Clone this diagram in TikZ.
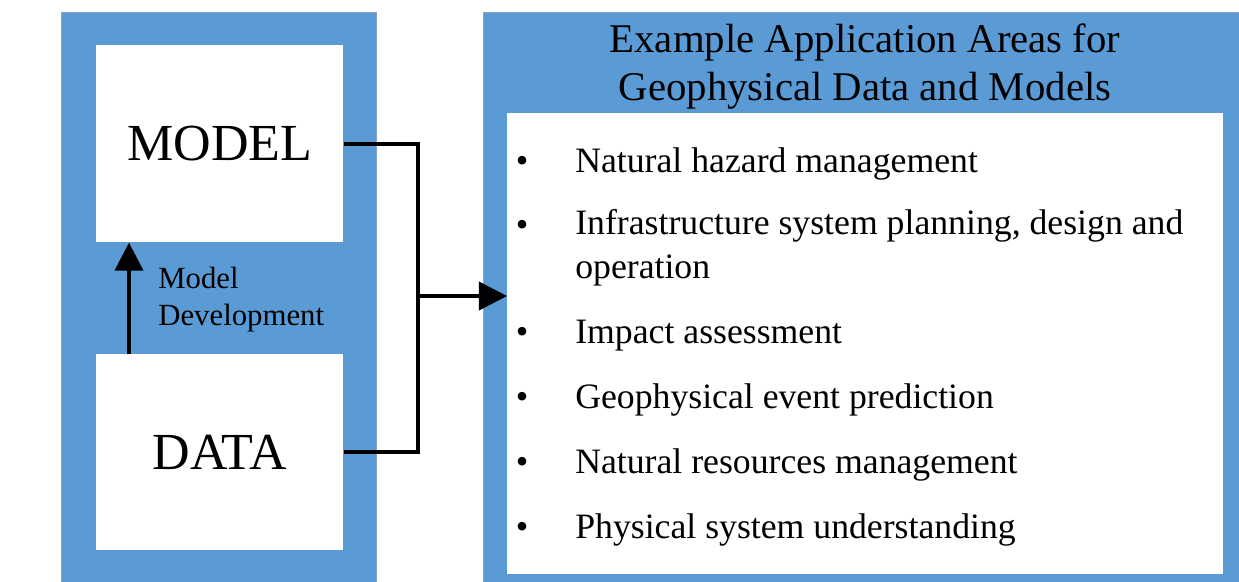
\documentclass[tikz,border=0pt]{standalone}
\usepackage{fontspec}
\setmainfont{Liberation Serif}
\usetikzlibrary{arrows.meta, positioning}

\definecolor{panelblue}{RGB}{91,155,213}
\definecolor{paneledge}{RGB}{135,160,190}

\tikzset{
  panel/.style={fill=panelblue, draw=paneledge, line width=0.6pt, anchor=north west},
  whitebox/.style={fill=white, draw=none, anchor=north west},
  boxtext/.style={font=\fontsize{37}{44}\selectfont},
  titletext/.style={font=\fontsize{29}{34}\selectfont, align=center},
  devtext/.style={font=\fontsize{21.9}{26.3}\selectfont, align=left},
  areatext/.style={font=\fontsize{25.4}{30.6}\selectfont, align=left},
  link/.style={line width=2.8pt}
}

\begin{document}
\begin{tikzpicture}[x=0.025cm, y=-0.025cm, >={Triangle[length=20pt, width=20pt]}]
\path[use as bounding box, clip] (0,0) rectangle (1239,581);

% two blue panels
\node[panel, minimum width=7.875cm, minimum height=14.5cm] (leftpanel) at (61,12) {};
\node[panel, minimum width=20cm, minimum height=14.5cm] (rightpanel) at (483,12) {};

% model and data boxes
\node[whitebox, boxtext, minimum width=6.175cm, minimum height=4.925cm] (model) at (96,45) {MODEL};
\node[whitebox, boxtext, minimum width=6.175cm, minimum height=4.9cm] (data) at (96,354) {DATA};

% application areas
\node[titletext, anchor=base] (title) at (865,100) {Example Application Areas for\\Geophysical Data and Models};
\node[whitebox, minimum width=17.9cm, minimum height=11.525cm] (list) at (507,113) {};

\foreach \by/\ty/\txt [count=\i] in {
    172/172/Natural hazard management,
    236/278/{Infrastructure system planning, design and\\operation},
    343/343/Impact assessment,
    408/408/Geophysical event prediction,
    473/473/Natural resources management,
    538/538/Physical system understanding} {
  \node[areatext, anchor=base] (dot\i) at (522,\by) {\textbullet};
  \node[areatext, anchor=base west, inner sep=0pt] (area\i) at (575,\ty) {\txt};
}

% model development arrow
\coordinate (devfoot) at (129,354);
\draw[link, ->] (devfoot) -- (devfoot |- model.south);
\node[devtext, anchor=base west, inner sep=0pt] (devlabel) at (158,325) {Model\\Development};

% both boxes feed the application areas
\coordinate (split) at (418,296);
\draw[link] (model.east) -| (split) |- (data.east);
\draw[link, ->] (split) -- (split -| list.west);

\end{tikzpicture}
\end{document}
